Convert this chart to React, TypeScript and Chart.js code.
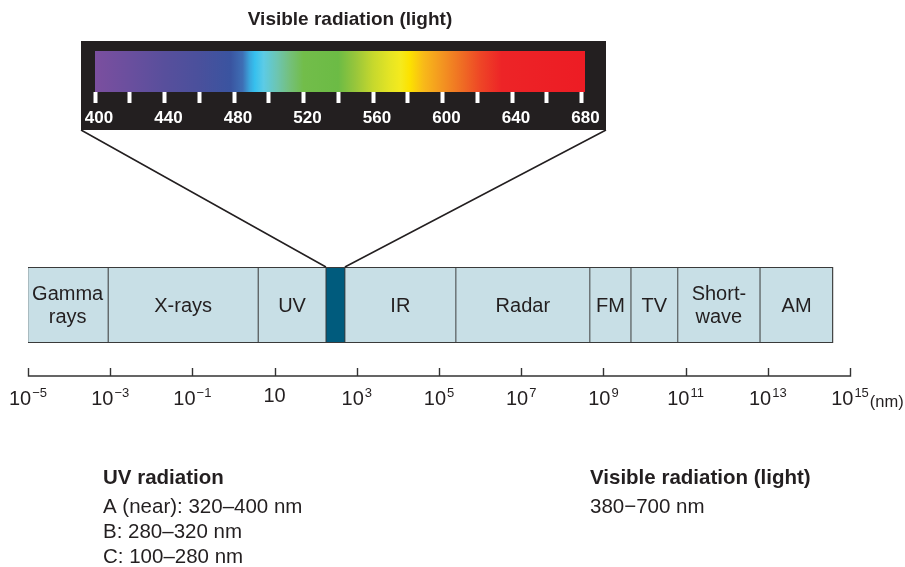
import { useEffect, useRef } from "react";
import { Chart, registerables } from "chart.js";

Chart.register(...registerables);

const FONT = '"Liberation Sans", Arial, Helvetica, sans-serif';
const INK = "#231f20";

// ---- Main spectrum (x = log10 of wavelength in nm) ----
const bandNames = ["Gamma\nrays", "X-rays", "UV", "", "IR", "Radar", "FM", "TV", "Short-\nwave", "AM"];
const bandEdges = [-5.02, -3.05, 0.6, 2.25, 2.71, 5.41, 8.67, 9.67, 10.81, 12.81, 14.59];
const visibleIndex = 3;
const bandFill = "#c8dfe6";
const visibleFill = "#005b7d";

const axisExps = [-5, -3, -1, 1, 3, 5, 7, 9, 11, 13, 15];
const axisBase = "10";
const axisSup = ["\u22125", "\u22123", "\u22121", "", "3", "5", "7", "9", "11", "13", "15"];
const axisUnit = "(nm)";

// ---- Visible panel (wavelength in nm) ----
const visMin = 400;
const visMax = 682;
const visTicks = [400, 420, 440, 460, 480, 500, 520, 540, 560, 580, 600, 620, 640, 660, 680];
const visLabelStep = 40;
const specNm = [400, 420, 440, 460, 478, 485, 489, 492, 497, 505, 512, 520, 540, 550, 560, 570, 576, 581, 589, 600, 612, 622, 634, 682];
const specColors = [
  "#7b4f9f", "#6a4f9e", "#584f9c", "#4a509c", "#3a54a0", "#3e6fb5", "#3aa6dc", "#36c0ee",
  "#5ccbe6", "#6dc5b0", "#74c07c", "#72bd4a", "#6cbb45", "#98c63b", "#c6d82d", "#e6e524",
  "#f5ea1d", "#fce200", "#f8ba19", "#f39421", "#ef6a24", "#ee4526", "#ed2427", "#ed1c24",
];

// ---- Texts ----
const panelTitle = "Visible radiation (light)";
const uvHeading = "UV radiation";
const uvLines = ["A (near): 320\u2013400 nm", "B: 280\u2013320 nm", "C: 100\u2013280 nm"];
const visHeading = "Visible radiation (light)";
const visLines = ["380\u2212700 nm"];

// ---- Layout ----
const W = 905;
const H = 567;
const PANEL = { left: 81, top: 41, width: 525, height: 89 };

const mainPlugin = {
  id: "spectrumDecor",
  afterDatasetsDraw(chart: any) {
    const ctx: CanvasRenderingContext2D = chart.ctx;
    const xs = chart.scales.x;
    const area = chart.chartArea;
    ctx.save();

    // band labels
    ctx.fillStyle = INK;
    ctx.font = `20px ${FONT}`;
    ctx.textAlign = "center";
    ctx.textBaseline = "middle";
    chart.data.datasets.forEach((_ds: any, i: number) => {
      const el = chart.getDatasetMeta(i).data[0];
      const lines = bandNames[i] ? bandNames[i].split("\n") : [];
      const cx = (el.x + el.base) / 2;
      lines.forEach((t: string, j: number) => {
        ctx.fillText(t, cx, el.y + 1 + (j - (lines.length - 1) / 2) * 23);
      });
    });

    // connector lines from panel to visible band
    const vis = chart.getDatasetMeta(visibleIndex).data[0];
    const bandTop = vis.y - vis.height / 2;
    ctx.strokeStyle = INK;
    ctx.lineWidth = 1.5;
    ctx.beginPath();
    ctx.moveTo(PANEL.left, PANEL.top + PANEL.height);
    ctx.lineTo(Math.min(vis.base, vis.x), bandTop);
    ctx.moveTo(PANEL.left + PANEL.width, PANEL.top + PANEL.height);
    ctx.lineTo(Math.max(vis.base, vis.x), bandTop);
    ctx.stroke();

    // axis line + ticks
    const ay = area.bottom + 33;
    const x0 = xs.getPixelForValue(axisExps[0]);
    const x1 = xs.getPixelForValue(axisExps[axisExps.length - 1]);
    ctx.strokeStyle = "#333";
    ctx.lineWidth = 1.4;
    ctx.beginPath();
    ctx.moveTo(x0, ay);
    ctx.lineTo(x1, ay);
    axisExps.forEach((e) => {
      const px = Math.round(xs.getPixelForValue(e)) + 0.5;
      ctx.moveTo(px, ay + 0.7);
      ctx.lineTo(px, ay - 8);
    });
    ctx.stroke();

    // tick labels with superscripts
    const baseFont = `20px ${FONT}`;
    const supFont = `13px ${FONT}`;
    ctx.fillStyle = INK;
    ctx.textAlign = "left";
    ctx.textBaseline = "alphabetic";
    let lastEnd = 0;
    axisExps.forEach((e, i) => {
      const px = xs.getPixelForValue(e);
      ctx.font = baseFont;
      const bw = ctx.measureText(axisBase).width;
      ctx.font = supFont;
      const sup = axisSup[i];
      const sw = sup ? ctx.measureText(sup).width + 1 : 0;
      const sx = px - (bw + sw) / 2;
      const baseY = ay + 29 - (sup ? 0 : 3);
      ctx.font = baseFont;
      ctx.fillText(axisBase, sx, baseY);
      if (sup) {
        ctx.font = supFont;
        ctx.fillText(sup, sx + bw + 1, baseY - 8);
      }
      lastEnd = sx + bw + sw;
    });
    ctx.font = `16.5px ${FONT}`;
    ctx.fillText(axisUnit, lastEnd + 1, ay + 31);

    // panel title
    ctx.textAlign = "center";
    ctx.font = `bold 19px ${FONT}`;
    ctx.fillText(panelTitle, 350, 25);

    // notes below
    ctx.textAlign = "left";
    ctx.font = `bold 20.5px ${FONT}`;
    ctx.fillText(uvHeading, 103, 484);
    ctx.fillText(visHeading, 590, 484);
    ctx.font = `20.5px ${FONT}`;
    uvLines.forEach((t, j) => ctx.fillText(t, 103, 513 + j * 25));
    visLines.forEach((t, j) => ctx.fillText(t, 590, 513 + j * 25));

    ctx.restore();
  },
};

const panelBg = {
  id: "panelBg",
  beforeDraw(chart: any) {
    const ctx: CanvasRenderingContext2D = chart.ctx;
    ctx.save();
    ctx.fillStyle = INK;
    ctx.fillRect(0, 0, chart.width, chart.height);
    ctx.restore();
  },
};

export default function App() {
  const mainRef = useRef<HTMLCanvasElement | null>(null);
  const panelRef = useRef<HTMLCanvasElement | null>(null);

  useEffect(() => {
    if (!mainRef.current || !panelRef.current) return;
    const last = bandNames.length - 1;
    const datasets = bandNames.map((name, i) => ({
      label: name.replace("\n", " ") || "Visible",
      data: [[bandEdges[i], bandEdges[i + 1]]],
      backgroundColor: i === visibleIndex ? visibleFill : bandFill,
      borderColor: "#3a3a3a",
      borderWidth: { top: 1.4, bottom: 1.4, left: i === 0 ? 1.4 : 0.8, right: i === last ? 1.4 : 0.8 },
      borderSkipped: false,
      grouped: false,
      barPercentage: 1,
      categoryPercentage: 1,
    }));

    const main = new Chart(mainRef.current, {
      type: "bar",
      data: { labels: ["spectrum"], datasets: datasets as any },
      options: {
        indexAxis: "y",
        animation: false,
        responsive: false,
        maintainAspectRatio: false,
        layout: { padding: { left: 28, right: 55, top: 267, bottom: 224 } },
        plugins: { legend: { display: false }, tooltip: { enabled: false }, title: { display: false } },
        scales: {
          x: { type: "linear", min: axisExps[0], max: axisExps[axisExps.length - 1], display: false },
          y: { type: "category", display: false },
        },
      } as any,
      plugins: [mainPlugin],
    });

    const panel = new Chart(panelRef.current, {
      type: "bar",
      data: {
        labels: ["visible"],
        datasets: [
          {
            label: "Visible",
            data: [[visMin, visMax]] as any,
            backgroundColor: (c: any) => {
              const ch = c.chart;
              const xs = ch.scales.x;
              if (!ch.chartArea || !xs) return specColors[0];
              const a = xs.getPixelForValue(visMin);
              const b = xs.getPixelForValue(visMax);
              const g = ch.ctx.createLinearGradient(a, 0, b, 0);
              specNm.forEach((nm, i) => g.addColorStop((nm - visMin) / (visMax - visMin), specColors[i]));
              return g;
            },
            borderWidth: 0,
            barPercentage: 1,
            categoryPercentage: 1,
          },
        ],
      },
      options: {
        indexAxis: "y",
        animation: false,
        responsive: false,
        maintainAspectRatio: false,
        layout: { padding: { left: 14, right: 21, top: 10, bottom: 1 } },
        plugins: { legend: { display: false }, tooltip: { enabled: false } },
        scales: {
          x: {
            type: "linear",
            min: visMin,
            max: visMax,
            afterBuildTicks: (s: any) => {
              s.ticks = visTicks.map((v) => ({ value: v }));
            },
            afterFit: (s: any) => {
              s.height = 37;
              s.paddingLeft = 0;
              s.paddingRight = 0;
            },
            grid: {
              display: true,
              drawOnChartArea: false,
              drawTicks: true,
              tickLength: 11,
              tickWidth: 4,
              tickColor: "#ffffff",
            },
            border: { display: false },
            ticks: {
              color: "#ffffff",
              font: { family: FONT, size: 17, weight: "bold" },
              padding: 5,
              labelOffset: 4,
              autoSkip: false,
              maxRotation: 0,
              callback: (v: any) => (Number(v) % visLabelStep === 0 ? String(v) : ""),
            },
          },
          y: { type: "category", display: false },
        },
      } as any,
      plugins: [panelBg],
    });

    return () => {
      main.destroy();
      panel.destroy();
    };
  }, []);

  return (
    <div style={{ position: "absolute", left: 0, top: 0, width: W, height: H, background: "#fff" }}>
      <canvas ref={mainRef} width={W} height={H} style={{ position: "absolute", left: 0, top: 0 }} />
      <canvas
        ref={panelRef}
        width={PANEL.width}
        height={PANEL.height}
        style={{ position: "absolute", left: PANEL.left, top: PANEL.top }}
      />
    </div>
  );
}
